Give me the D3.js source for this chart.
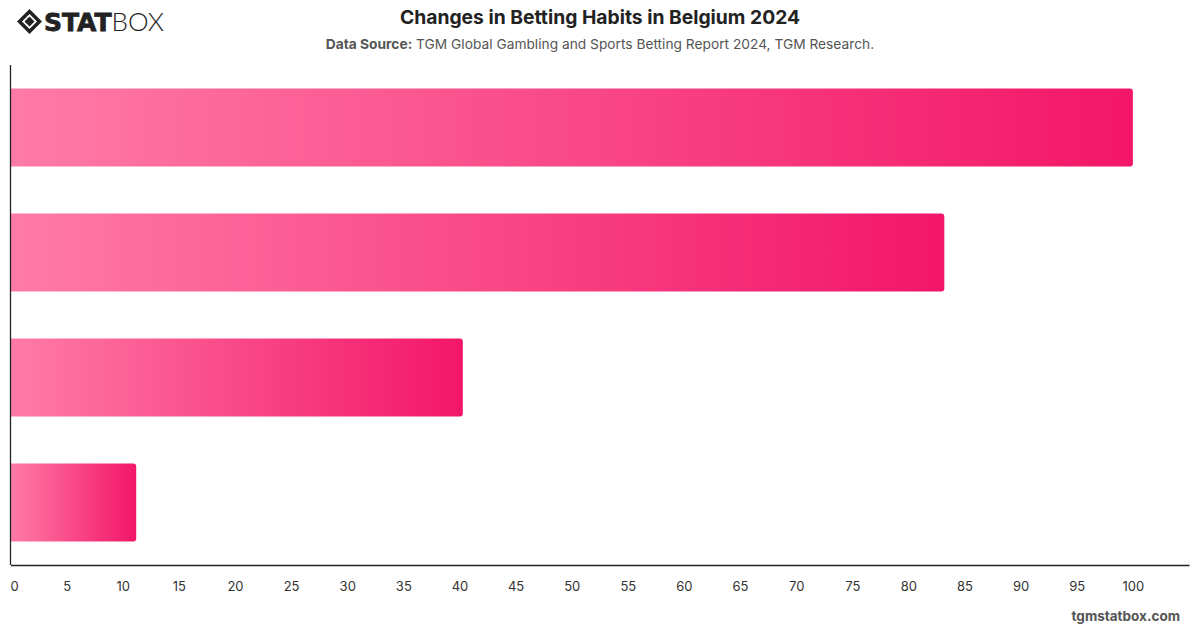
<!DOCTYPE html>
<html><head><meta charset="utf-8">
<script src="https://cdn.jsdelivr.net/npm/d3@7"></script>
<style>
body{margin:0;background:#fff;}
svg{display:block;font-family:Inter,"Liberation Sans",Arial,sans-serif;}
</style></head>
<body><svg id="c" width="1200" height="628"></svg>
<script>
const categories = ["Category A", "Category B", "Category C", "Category D"];
const values = [100, 83.2, 40.3, 11.2];
const tickValues = [0,5,10,15,20,25,30,35,40,45,50,55,60,65,70,75,80,85,90,95,100];
const title = "Changes in Betting Habits in Belgium 2024";
const sourceLabel = "Data Source:";
const sourceText = " TGM Global Gambling and Sports Betting Report 2024, TGM Research.";
const footer = "tgmstatbox.com";

const svg = d3.select("#c");
const m = {left:10.5, right:1189, top:65, bottom:565};
const x = d3.scaleLinear().domain([0,105]).range([m.left, m.right]);
const y = d3.scaleBand().domain(categories).range([m.top, m.bottom]).paddingInner(0).paddingOuter(0);
const barH = 78;

const defs = svg.append("defs");
categories.forEach((c,i)=>{
  const g = defs.append("linearGradient").attr("id","g"+i)
    .attr("x1","0").attr("x2","1").attr("y1","0").attr("y2","0");
  g.append("stop").attr("offset","0").attr("stop-color","#ff7ba7");
  g.append("stop").attr("offset","1").attr("stop-color","#f31668");
});

// bars
svg.append("g").selectAll("path").data(values).join("path")
  .attr("fill",(d,i)=>`url(#g${i})`)
  .attr("d",(d,i)=>{
    const x0=x(0)+0.5, x1=x(d), y0=y(categories[i])+(y.bandwidth()-barH)/2, y1=y0+barH, r=3;
    return `M${x0},${y0}H${x1-r}Q${x1},${y0} ${x1},${y0+r}V${y1-r}Q${x1},${y1} ${x1-r},${y1}H${x0}Z`;
  });

// axes
const xa = d3.axisBottom(x).tickValues(tickValues).tickSize(0).tickPadding(17);
const gx = svg.append("g").attr("transform",`translate(0,${m.bottom})`).call(xa);
gx.select(".domain").attr("stroke","#222").attr("stroke-width",1.3);
gx.selectAll("text").attr("font-size",13).attr("fill","#333")
  .attr("font-family","Inter,'Liberation Sans',sans-serif")
  .attr("dx",d=>d===0?3.5:0);
svg.append("line").attr("x1",m.left).attr("x2",m.left).attr("y1",m.top).attr("y2",m.bottom)
  .attr("stroke","#222").attr("stroke-width",1.3);

// titles
svg.append("text").attr("x",600).attr("y",23.5).attr("text-anchor","middle")
  .attr("font-size",19.3).attr("font-weight",700).attr("fill","#222").text(title);
const st = svg.append("text").attr("x",600).attr("y",49).attr("text-anchor","middle")
  .attr("font-size",13.75).attr("fill","#555");
st.append("tspan").attr("font-weight",700).text(sourceLabel);
st.append("tspan").text(sourceText);
svg.append("text").attr("x",1180).attr("y",621).attr("text-anchor","end")
  .attr("font-size",13.5).attr("font-weight",700).attr("fill","#555").text(footer);

// logo
const lg = svg.append("g").attr("transform","translate(0,0)");
lg.append("path").attr("d","M29.5,9 L42,21.5 L29.5,34 L17,21.5 Z M29.5,14 L22,21.5 L29.5,29 L37,21.5 Z")
  .attr("fill","#222").attr("fill-rule","evenodd");
lg.append("path").attr("d","M29.5,16.5 L34.5,21.5 L29.5,26.5 L24.5,21.5 Z").attr("fill","#222");
const lt = lg.append("text").attr("x",44).attr("y",31).attr("font-size",25).attr("fill","#222")
  .attr("font-family","'DejaVu Sans','Liberation Sans',sans-serif");
lt.append("tspan").attr("font-weight",900).attr("stroke","#222").attr("stroke-width",0.8).attr("letter-spacing",0).text("STAT");
lt.append("tspan").attr("font-weight",300).attr("font-family","Lato,'Liberation Sans',sans-serif").attr("font-size",26).text("BOX");
</script></body></html>
